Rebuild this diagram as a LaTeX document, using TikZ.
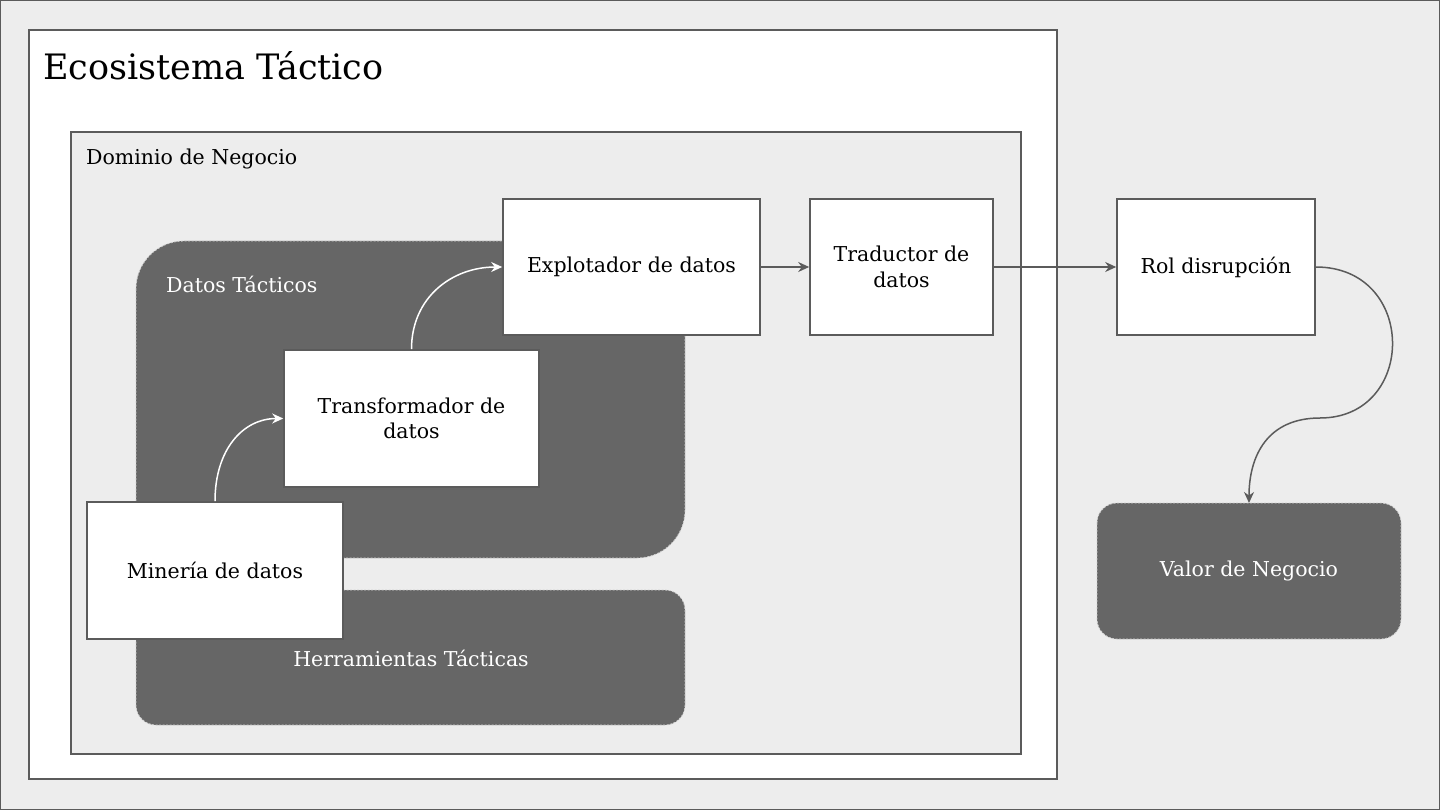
\documentclass[tikz,border=0pt]{standalone}
\usepackage{fontspec}
\setmainfont{DejaVu Serif}
\usetikzlibrary{arrows.meta}
\definecolor{bgc}{HTML}{EDEDED}
\definecolor{linec}{HTML}{5B5B5B}
\definecolor{darkc}{HTML}{666666}
\definecolor{dashc}{HTML}{D0D0D0}
\tikzset{
  wbox/.style={draw=linec, line width=1.6pt, fill=white, align=center, inner sep=0pt, font=\fontsize{20.5}{25.5}\selectfont},
  darkbox/.style={draw=dashc, dash pattern=on 2pt off 1.5pt, line width=0.8pt, fill=darkc},
  garrow/.style={draw=linec, line width=1.5pt, -{Stealth[length=11pt,width=10pt]}},
  warrow/.style={draw=white, line width=1.5pt, -{Stealth[length=11pt,width=10pt]}},
  lbl/.style={inner sep=0pt, font=\fontsize{20.5}{25.5}\selectfont}
}
\begin{document}
\begin{tikzpicture}[x=1pt,y=-1pt]
\useasboundingbox (0,0) rectangle (1440,810);
\fill[bgc] (0,0) rectangle (1440,810);
\draw[linec, line width=1pt] (0.5,0.5) rectangle (1439.5,809.5);
% Ecosistema
\draw[linec, line width=1.6pt, fill=white] (29,30) rectangle (1057,779);
\node[anchor=west, inner sep=0pt, font=\fontsize{35}{40}\selectfont] (eco) at (43,66) {Ecosistema Táctico};
% Dominio
\draw[linec, line width=1.6pt, fill=bgc] (71,132) rectangle (1021,754);
\node[lbl, anchor=west] (dom) at (86,159) {Dominio de Negocio};
% Datos Tacticos
\draw[darkbox, rounded corners=48pt] (136,241) rectangle (685,558);
\node[lbl, anchor=west, text=white] (dt) at (166,284) {Datos Tácticos};
% Herramientas
\draw[darkbox, rounded corners=20pt] (136,590) rectangle (685,725);
\node[lbl, text=white] (ht) at (411,658) {Herramientas Tácticas};
% Valor
\draw[darkbox, rounded corners=20pt] (1097,503) rectangle (1401,639);
\node[lbl, text=white] (valortxt) at (1249,571) {Valor de Negocio};
\coordinate (valor) at (1249,503);
% boxes
\node[wbox, minimum width=257pt, minimum height=136pt] (expl) at (631.5,267) {Explotador de datos};
\node[wbox, minimum width=183pt, minimum height=136pt] (trad) at (901.5,267) {Traductor de\\datos};
\node[wbox, minimum width=198pt, minimum height=136pt] (rol) at (1216,267) {Rol disrupción};
\node[wbox, minimum width=255pt, minimum height=137pt] (transf) at (411.5,418.5) {Transformador de\\datos};
\node[wbox, minimum width=256pt, minimum height=137pt] (mineria) at (215,570.5) {Minería de datos};
% arrows
\draw[garrow] (expl.east) -- (trad.west);
\draw[garrow] (trad.east) -- (rol.west);
\coordinate (bend) at (1320,418);
\draw[garrow] (rol.east) .. controls +(102,0) and +(97,0) .. (bend) .. controls +(-52,0) and +(0,-48) .. (valor);
\draw[warrow] (mineria.north) .. controls +(0,-52) and +(-40,0) .. (transf.west);
\draw[warrow] (transf.north) .. controls +(0,-52) and +(-50,0) .. (expl.west);
\end{tikzpicture}
\end{document}
